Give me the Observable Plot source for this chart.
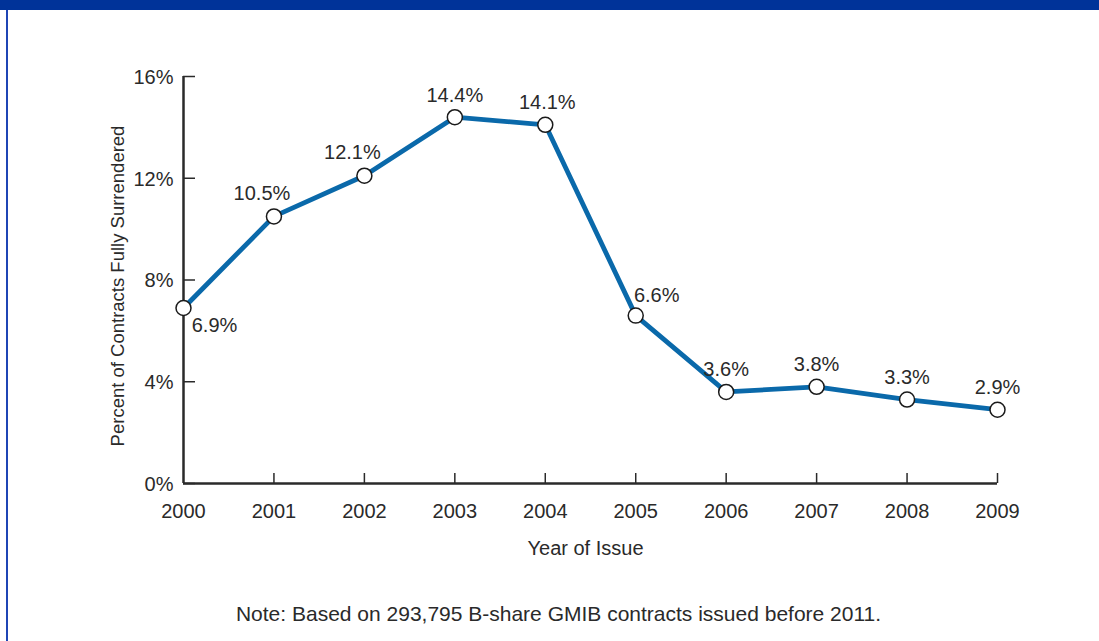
<!DOCTYPE html>
<html>
<head>
<meta charset="utf-8">
<script src="https://cdn.jsdelivr.net/npm/d3@7"></script>
<script src="https://cdn.jsdelivr.net/npm/@observablehq/plot@0.6"></script>
<style>
  body { margin: 0; background: #fff; }
  #frame { position: relative; width: 1099px; height: 641px; overflow: hidden; background: #fff; }
  #band { position: absolute; left: 0; top: 0; width: 1099px; height: 10px; background: #003399; }
  #edge { position: absolute; left: 6px; top: 10px; width: 2px; height: 631px; background: #1f45b5; }
  #chart { position: absolute; left: 0; top: 10px; }
  #note { position: absolute; left: 18px; width: 1081px; top: 602px; text-align: center;
          font-family: "Liberation Sans", Arial, sans-serif; font-size: 21px; color: #2a2a2a; }
</style>
</head>
<body>
<div id="frame">
  <div id="band"></div>
  <div id="edge"></div>
  <div id="chart"></div>
  <div id="note">Note: Based on 293,795 B-share GMIB contracts issued before 2011.</div>
</div>
<script>
const years = [2000, 2001, 2002, 2003, 2004, 2005, 2006, 2007, 2008, 2009];
const surrendered = [6.9, 10.5, 12.1, 14.4, 14.1, 6.6, 3.6, 3.8, 3.3, 2.9];
const pointLabels = ["6.9%", "10.5%", "12.1%", "14.4%", "14.1%", "6.6%", "3.6%", "3.8%", "3.3%", "2.9%"];
const yTicks = [0, 4, 8, 12, 16];
const yTickLabels = ["0%", "4%", "8%", "12%", "16%"];
const xTickLabels = ["2000", "2001", "2002", "2003", "2004", "2005", "2006", "2007", "2008", "2009"];
const yTitle = "Percent of Contracts Fully Surrendered";
const xTitle = "Year of Issue";

const data = years.map((year, i) => ({year, value: surrendered[i], label: pointLabels[i]}));

const lineColor = "#0a69aa";
const ink = "#2a2a2a";
const fs = 20;

const aboveCenter = new Set([2003, 2006, 2007, 2008, 2009]);
const aboveLeft = new Set([2001, 2002]);

const chart = Plot.plot({
  width: 1099,
  height: 570,
  marginLeft: 183,
  marginRight: 102,
  marginTop: 66,
  marginBottom: 97,
  style: { fontFamily: "'Liberation Sans', Arial, sans-serif", fontSize: fs + "px", color: ink, background: "transparent" },
  x: { domain: [2000, 2009] },
  y: { domain: [0, 16] },
  marks: [
    Plot.axisY({ ticks: yTicks, tickSize: 0, tickPadding: 10, tickFormat: (d) => yTickLabels[yTicks.indexOf(d)], label: null, fontSize: fs, dy: 1 }),
    Plot.axisY({ ticks: yTicks, tickSize: -12, tickFormat: () => "", label: null, stroke: ink, strokeWidth: 1.5 }),
    Plot.axisX({ ticks: years, tickSize: 0, tickPadding: 20, tickFormat: (d) => xTickLabels[years.indexOf(d)], label: null, fontSize: fs }),
    Plot.axisX({ ticks: years.slice(1), tickSize: -10, tickFormat: () => "", label: null, stroke: ink, strokeWidth: 1.5 }),
    Plot.ruleX([2000], { stroke: ink, strokeWidth: 2.5, y1: 0, y2: 16 }),
    Plot.ruleY([0], { stroke: ink, strokeWidth: 2.5, x1: 2000, x2: 2009 }),
    Plot.line(data, { x: "year", y: "value", stroke: lineColor, strokeWidth: 4.8 }),
    Plot.dot(data, { x: "year", y: "value", r: 7.5, fill: "white", stroke: "#1a1a1a", strokeWidth: 1.5 }),
    Plot.text(data.filter(d => aboveCenter.has(d.year)), { x: "year", y: "value", text: "label", dy: -22, fontSize: fs, fill: ink }),
    Plot.text(data.filter(d => d.year === 2004), { x: "year", y: "value", text: "label", dx: 2, dy: -22, fontSize: fs, fill: ink }),
    Plot.text(data.filter(d => aboveLeft.has(d.year)), { x: "year", y: "value", text: "label", dx: -12, dy: -23, fontSize: fs, fill: ink }),
    Plot.text(data.filter(d => d.year === 2005), { x: "year", y: "value", text: "label", dx: 21, dy: -20, fontSize: fs, fill: ink }),
    Plot.text(data.filter(d => d.year === 2000), { x: "year", y: "value", text: "label", dx: 31, dy: 18, fontSize: fs, fill: ink }),
    Plot.text([xTitle], { frameAnchor: "bottom", text: (d) => d, dx: -5, dy: 71, fontSize: fs, fill: ink }),
    Plot.text([yTitle], { frameAnchor: "left", textAnchor: "middle", text: (d) => d, dx: -65, dy: 6, rotate: -90, fontSize: 18.5, fill: ink })
  ]
});
document.getElementById("chart").appendChild(chart);
</script>
</body>
</html>
